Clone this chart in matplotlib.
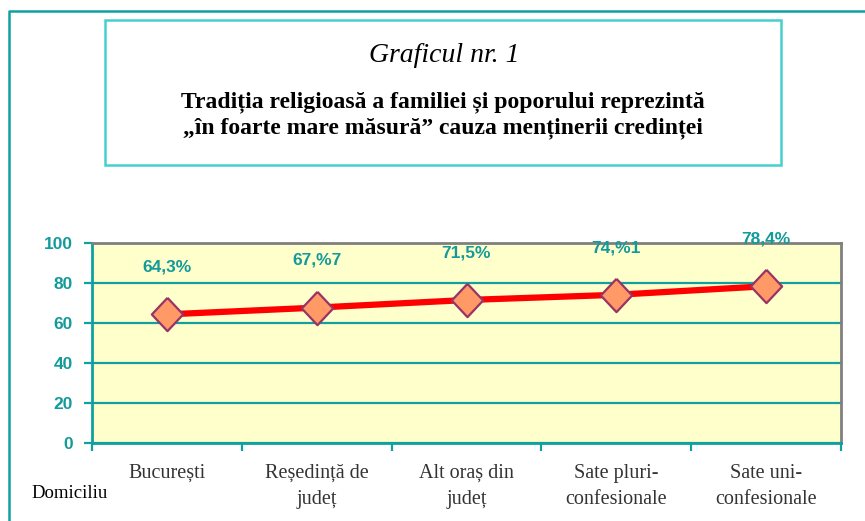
import matplotlib
matplotlib.use("Agg")
import matplotlib.pyplot as plt
from matplotlib.patches import Rectangle
from matplotlib.lines import Line2D

categories = ["București", "Reședință de\njudeț", "Alt oraș din\njudeț", "Sate pluri-\nconfesionale", "Sate uni-\nconfesionale"]
values = [64.3, 67.7, 71.5, 74.1, 78.4]
value_labels = ["64,3%", "67,%7", "71,5%", "74,%1", "78,4%"]
yticks = [0, 20, 40, 60, 80, 100]

TEAL = "#10a0a0"
TEAL_DARK = "#139a9a"
W, H = 865, 521
fig = plt.figure(figsize=(W / 100, H / 100), dpi=100)

# outer frame
fig.add_artist(Line2D([9 / W, 9 / W, 1.0], [0.0, 1 - 11 / H, 1 - 11 / H], transform=fig.transFigure,
                      color=TEAL, lw=1.8))
# title box
fig.add_artist(Rectangle((105 / W, 1 - 165 / H), 676 / W, 145 / H, transform=fig.transFigure,
                         facecolor="white", edgecolor="#45d0d0", lw=1.8))
fig.text(444 / W, 1 - 56 / H, "Graficul nr. 1", ha="center", va="center", family="Liberation Serif",
         style="italic", fontsize=20, color="black")
fig.text(443 / W, 1 - 115 / H, "Tradiția religioasă a familiei și poporului reprezintă\n„în foarte mare măsură” cauza menținerii credinței",
         ha="center", va="center", family="Liberation Serif", weight="bold", fontsize=17,
         color="black", linespacing=1.3)

ax = fig.add_axes([92 / W, 1 - 443 / H, 749 / W, 200 / H])
ax.set_facecolor("#ffffcc")
x = list(range(len(categories)))
ax.plot(x, values, color="#ff0000", lw=4.5, zorder=3, solid_capstyle="butt")
diamond = [(0, 0.5), (0.47, 0), (0, -0.5), (-0.47, 0), (0, 0.5)]
ax.plot(x, values, linestyle="none", marker=diamond, markersize=24, markerfacecolor="#ff9966",
        markeredgecolor="#993366", markeredgewidth=1.6, zorder=4)
for xi, v, lab in zip(x, values, value_labels):
    ax.annotate(lab, (xi, v), xytext=(0, 34), textcoords="offset points", ha="center", va="center",
                family="Liberation Sans", weight="bold", fontsize=12.5, color=TEAL_DARK, zorder=6,
                annotation_clip=False)

ax.set_xlim(-0.5, len(categories) - 0.5)
ax.set_ylim(0, 100)
ax.set_yticks(yticks)
ax.set_yticklabels([str(t) for t in yticks], family="Liberation Sans", weight="bold", fontsize=12.5,
                   color=TEAL_DARK)
ax.yaxis.grid(True, color=TEAL, lw=1.6)
ax.set_axisbelow(True)
ax.tick_params(axis="y", direction="out", length=6, width=1.6, color=TEAL, pad=8)
ax.set_xticks(x)
ax.set_xticklabels(categories, family="Liberation Serif", fontsize=14.5, color="#333333", linespacing=1.5)
ax.tick_params(axis="x", which="major", length=0, pad=15)
ax.set_xticks([i - 0.5 for i in range(len(categories) + 1)], minor=True)
ax.tick_params(axis="x", which="minor", direction="out", length=6, width=1.6, color=TEAL)
for s in ["left", "bottom"]:
    ax.spines[s].set_color(TEAL)
    ax.spines[s].set_linewidth(2)
for s in ["right", "top"]:
    ax.spines[s].set_color("#808080")
    ax.spines[s].set_linewidth(2)

fig.text(70 / W, 1 - 493 / H, "Domiciliu", ha="center", va="center", family="Liberation Serif",
         fontsize=13.5, color="black")

fig.savefig("out.png", dpi=100)
